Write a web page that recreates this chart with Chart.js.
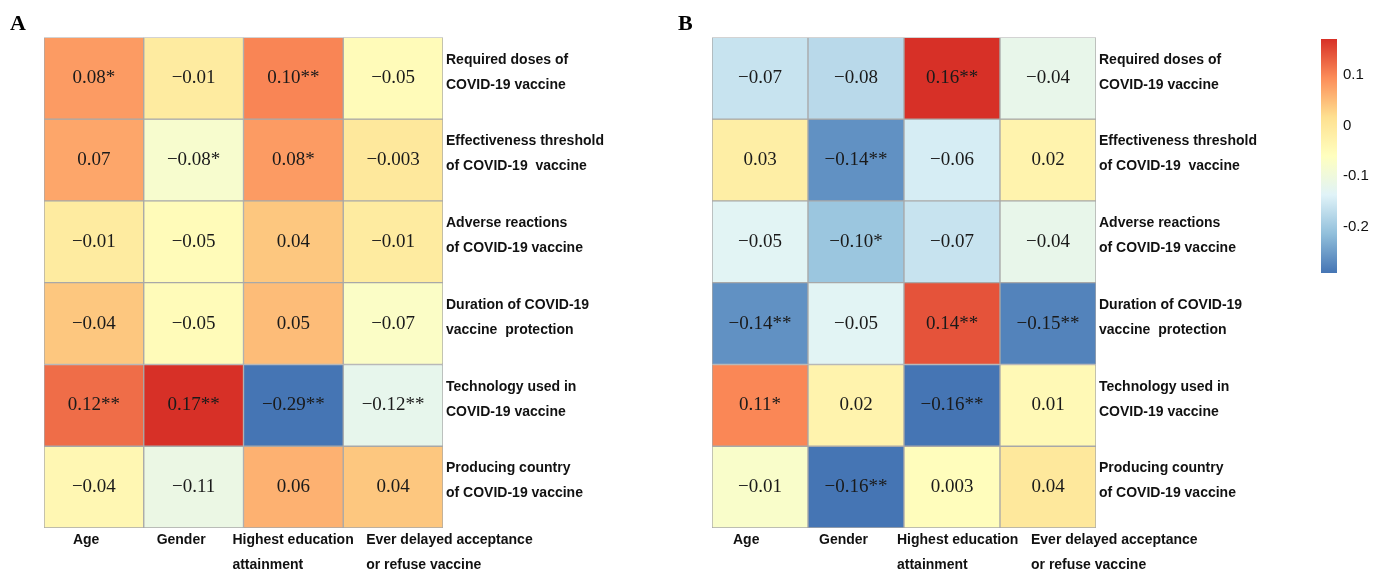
<!DOCTYPE html>
<html>
<head>
<meta charset="utf-8">
<script src="https://cdn.jsdelivr.net/npm/chart.js@4"></script>
<style>
  body { margin: 0; background: #fff; }
  canvas { position: absolute; top: 0; }
</style>
</head>
<body>
<canvas id="chart-a" width="670" height="574" style="left:0px"></canvas>
<canvas id="chart-b" width="620" height="574" style="left:668px"></canvas>
<canvas id="chart-scale" width="62" height="250" style="left:1321px; top:32px"></canvas>
<script>
// column / row labels shared by both panels
const colLabels = [
    ['Age'],
    ['Gender'],
    ['Highest education', 'attainment'],
    ['Ever delayed acceptance', 'or refuse vaccine']
]
const rowLabels = [
    ['Required doses of', 'COVID-19 vaccine'],
    ['Effectiveness threshold', 'of COVID-19  vaccine'],
    ['Adverse reactions', 'of COVID-19 vaccine'],
    ['Duration of COVID-19', 'vaccine  protection'],
    ['Technology used in', 'COVID-19 vaccine'],
    ['Producing country', 'of COVID-19 vaccine']
]

// panel A: fill values and printed labels
const aValues = [
    [0.08, -0.01, 0.10, -0.05],
    [0.07, -0.08, 0.08, -0.003],
    [-0.01, -0.05, 0.04, -0.01],
    [0.04, -0.05, 0.05, -0.07],
    [0.12, 0.17, -0.29, -0.12],
    [-0.04, -0.11, 0.06, 0.04]
]
const aLabels = [
    ['0.08*', '\u22120.01', '0.10**', '\u22120.05'],
    ['0.07', '\u22120.08*', '0.08*', '\u22120.003'],
    ['\u22120.01', '\u22120.05', '0.04', '\u22120.01'],
    ['\u22120.04', '\u22120.05', '0.05', '\u22120.07'],
    ['0.12**', '0.17**', '\u22120.29**', '\u22120.12**'],
    ['\u22120.04', '\u22120.11', '0.06', '0.04']
]

// panel B
const bValues = [
    [-0.07, -0.08, 0.16, -0.04],
    [0.03, -0.14, -0.06, 0.02],
    [-0.05, -0.10, -0.07, -0.04],
    [-0.14, -0.05, 0.14, -0.15],
    [0.11, 0.02, -0.16, 0.01],
    [-0.01, -0.16, 0.003, 0.04]
]
const bLabels = [
    ['\u22120.07', '\u22120.08', '0.16**', '\u22120.04'],
    ['0.03', '\u22120.14**', '\u22120.06', '0.02'],
    ['\u22120.05', '\u22120.10*', '\u22120.07', '\u22120.04'],
    ['\u22120.14**', '\u22120.05', '0.14**', '\u22120.15**'],
    ['0.11*', '0.02', '\u22120.16**', '0.01'],
    ['\u22120.01', '\u22120.16**', '0.003', '0.04']
]

// colour bar ticks
const scaleTicks = [0.1, 0, -0.1, -0.2]

const palette = ['#4575B4', '#91BFDB', '#E0F3F8', '#FFFFBF', '#FEE090', '#FC8D59', '#D73027']

const hexToRgb = (hex) => [1, 3, 5].map(i => parseInt(hex.slice(i, i + 2), 16))

const colorFor = (v, lo, hi) => {
    const pos = Math.max(0, Math.min(1, (v - lo) / (hi - lo))) * (palette.length - 1)
    const i = Math.min(Math.floor(pos), palette.length - 2)
    const t = pos - i
    const c0 = hexToRgb(palette[i])
    const c1 = hexToRgb(palette[i + 1])
    const c = c0.map((a, k) => Math.round(a + (c1[k] - a) * t))
    return `rgb(${c[0]}, ${c[1]}, ${c[2]})`
}

const labelFont = { family: 'Liberation Sans, Arial, sans-serif', size: 14, weight: 'bold', lineHeight: '25px' }
const noGrid = { display: false, drawTicks: false }

// writes the value text in the middle of every cell
const cellTextPlugin = {
    id: 'cellText',
    afterDatasetsDraw(chart) {
        const ctx = chart.ctx
        ctx.save()
        ctx.font = '19px "Liberation Serif", "Times New Roman", serif'
        ctx.fillStyle = '#1a1a1a'
        ctx.textAlign = 'center'
        ctx.textBaseline = 'middle'
        chart.data.datasets.forEach((ds, i) => {
            chart.getDatasetMeta(i).data.forEach((bar, j) => {
                ctx.fillText(ds.cellText[j], bar.x, (bar.y + bar.base) / 2)
            })
        })
        ctx.restore()
    }
}

// a label-only category axis under one column, text left aligned
const labelAxis = (label, weight, shift) => ({
    type: 'category',
    labels: [label],
    position: 'bottom',
    stack: 'cols',
    stackWeight: 1,
    weight: weight,
    offset: true,
    grid: noGrid,
    border: { display: false },
    ticks: {
        align: 'start',
        labelOffset: shift,
        padding: 0,
        autoSkip: false,
        maxRotation: 0,
        minRotation: 0,
        color: '#111',
        font: labelFont
    },
    afterFit: (s) => {
        s.height = 46
        s.paddingLeft = 0
        s.paddingRight = 0
    }
})

const makeHeatmap = (canvasId, title, values, labels, rightWidth, colShifts) => {
    const all = values.flat()
    const lo = Math.min(...all)
    const hi = Math.max(...all)

    // one stacked dataset per row, each cell one unit high
    const datasets = values.map((row, r) => ({
        label: rowLabels[r].join(' '),
        data: row.map(() => 1),
        backgroundColor: row.map(v => colorFor(v, lo, hi)),
        borderColor: '#a8a8a8',
        borderWidth: 1,
        borderSkipped: false,
        barPercentage: 1,
        categoryPercentage: 1,
        cellText: labels[r]
    }))

    const scales = {
        x: { stacked: true, display: false, weight: 0 },
        y: {
            stacked: true,
            reverse: true,
            min: 0,
            max: 6,
            position: 'left',
            grid: noGrid,
            border: { display: false },
            ticks: { display: false },
            afterFit: (s) => { s.width = 34 }
        },
        rows: {
            type: 'category',
            labels: rowLabels,
            position: 'right',
            offset: true,
            grid: noGrid,
            border: { display: false },
            ticks: {
                crossAlign: 'near',
                padding: 3,
                labelOffset: -6,
                autoSkip: false,
                color: '#111',
                font: labelFont
            },
            afterFit: (s) => { s.width = rightWidth }
        }
    }
    // column labels sit side by side under the grid
    colLabels.forEach((l, i) => {
        scales['col' + i] = labelAxis(l, i + 1, colShifts[i])
    })

    return new Chart(document.getElementById(canvasId), {
        type: 'bar',
        data: { labels: colLabels, datasets: datasets },
        plugins: [cellTextPlugin],
        options: {
            responsive: false,
            animation: false,
            layout: { padding: { left: 10, right: 0, top: 0, bottom: 0 } },
            plugins: {
                legend: { display: false },
                tooltip: { enabled: false },
                title: {
                    display: true,
                    text: title,
                    align: 'start',
                    color: '#000',
                    font: { family: 'Liberation Serif, Times New Roman, serif', size: 22, weight: 'bold', lineHeight: 1.2 },
                    padding: { top: 11, bottom: 0 }
                }
            },
            scales: scales
        }
    })
}

makeHeatmap('chart-a', 'A', aValues, aLabels, 227, [-21, -37, -61, -27])
makeHeatmap('chart-b', 'B', bValues, bLabels, 192, [-27, -37, -55, -17])

// colour bar (uses the range of panel A)
const scaleMin = Math.min(...aValues.flat())
const scaleMax = Math.max(...aValues.flat())

const gradientFill = (context) => {
    const chart = context.chart
    if (!chart.chartArea) return 'transparent'
    const y = chart.scales.y
    const g = chart.ctx.createLinearGradient(0, y.getPixelForValue(scaleMin), 0, y.getPixelForValue(scaleMax))
    palette.forEach((c, i) => g.addColorStop(i / (palette.length - 1), c))
    return g
}

new Chart(document.getElementById('chart-scale'), {
    type: 'bar',
    data: {
        labels: [''],
        datasets: [{
            data: [[scaleMin, scaleMax]],
            backgroundColor: gradientFill,
            borderWidth: 0,
            barPercentage: 1,
            categoryPercentage: 1
        }]
    },
    options: {
        responsive: false,
        animation: false,
        layout: { padding: { top: 7, bottom: 9, left: 0, right: 0 } },
        plugins: { legend: { display: false }, tooltip: { enabled: false } },
        scales: {
            x: { display: false },
            y: {
                position: 'right',
                min: scaleMin,
                max: scaleMax,
                grid: noGrid,
                border: { display: false },
                ticks: {
                    padding: 6,
                    color: '#111',
                    font: { family: 'Liberation Sans, Arial, sans-serif', size: 15 },
                    callback: (v) => String(v)
                },
                afterBuildTicks: (s) => { s.ticks = scaleTicks.map(v => ({ value: v })) },
                afterFit: (s) => {
                    s.width = 46
                    s.paddingTop = 0
                    s.paddingBottom = 0
                }
            }
        }
    }
})
</script>
</body>
</html>
